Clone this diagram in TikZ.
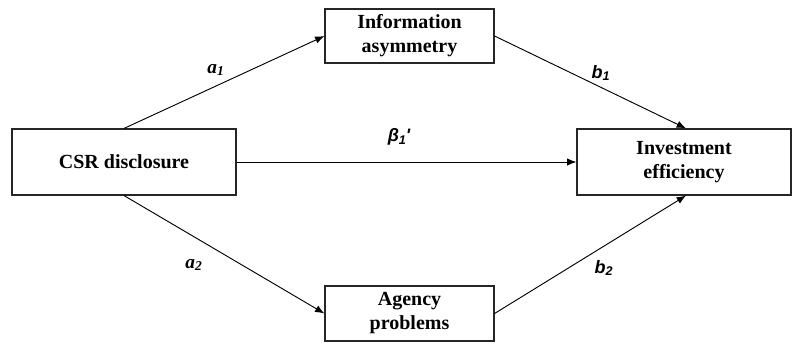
\documentclass[tikz,border=0pt]{standalone}
\usepackage{fontspec}
\setmainfont{Liberation Serif}
\newfontfamily\labsans{Liberation Sans}
\usetikzlibrary{arrows.meta}
\tikzset{
  box/.style={draw=black!85, line width=0.85pt, rectangle, align=center, inner sep=0pt,
    font=\fontsize{15}{18}\selectfont\bfseries},
  link/.style={draw=black, line width=0.7pt, -{Latex[length=7pt,width=5.5pt]}},
  coef/.style={font=\fontsize{14.5}{16}\selectfont\bfseries\itshape},
  coefsans/.style={font=\labsans\fontsize{13.5}{16}\selectfont\bfseries\itshape},
}
\begin{document}
\begin{tikzpicture}[x=0.75pt,y=-0.75pt]
\useasboundingbox (0,0) rectangle (792,344);
% the four variables
\node[box, minimum width=168pt, minimum height=49.5pt] (csr) at (124,162) {CSR disclosure};
\node[box, minimum width=126.75pt, minimum height=40.5pt] (info) at (409.5,36) {Information\\asymmetry};
\node[box, minimum width=160.5pt, minimum height=49.5pt] (inv) at (684,162) {Investment\\efficiency};
\node[box, minimum width=126.75pt, minimum height=41.25pt] (agency) at (409.5,313.5) {Agency\\problems};
% mediation paths
\draw[link] (csr.north) -- (info.west);
\draw[link] (csr.south) -- (agency.west);
\draw[link] (csr.east) -- (inv.west);
\draw[link] (info.east) -- ([xshift=1.5pt]inv.north);
\draw[link] (agency.east) -- ([xshift=1.5pt]inv.south);
% path coefficients
\node[coef] (a1) at (216,70) {a\textsubscript{1}};
\node[coef] (a2) at (194,265) {a\textsubscript{2}};
\node[coefsans] (b1) at (601,73) {b\textsubscript{1}};
\node[coefsans] (b2) at (604,268) {b\textsubscript{2}};
\node[coefsans] (beta) at (399,137) {β\textsubscript{1}\kern-0.5pt'};
\end{tikzpicture}
\end{document}
